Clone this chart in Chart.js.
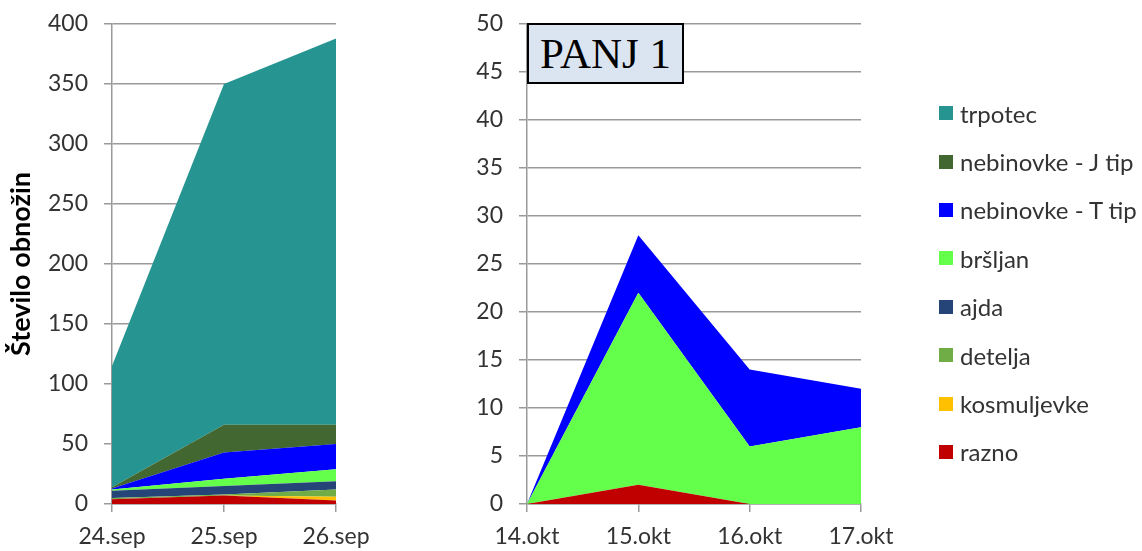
<!DOCTYPE html>
<html>
<head>
<meta charset="utf-8">
<script src="https://cdn.jsdelivr.net/npm/chart.js@4.4.1/dist/chart.umd.min.js"></script>
<style>
  html, body { margin: 0; padding: 0; background: #fff; }
  body { width: 1142px; height: 551px; position: relative; overflow: hidden; font-family: Lato, "Open Sans", sans-serif; }
  #c1 { position: absolute; left: 0; top: 0; }
  #c2 { position: absolute; left: 440px; top: 0; }
  #panj { position: absolute; left: 527px; top: 23px; width: 153px; height: 57px; border: 2px solid #000; background: #dbe5f1;
          font-family: "Liberation Serif", "Times New Roman", serif; font-size: 43px; line-height: 57px; text-align: center; color: #000; }
  #legend { position: absolute; left: 939px; top: 89px; }
  .li { height: 48.4px; display: flex; align-items: center; font-size: 24px; color: #333; white-space: nowrap; }
  .sw { width: 14px; height: 14px; margin-right: 7px; flex: none; }
</style>
</head>
<body>
<canvas id="c1" width="420" height="551"></canvas>
<canvas id="c2" width="500" height="551"></canvas>
<div id="panj">PANJ 1</div>
<div id="legend"></div>
<script>
// ---- data ----
const seriesNames = ['razno', 'kosmuljevke', 'detelja', 'ajda', 'bršljan', 'nebinovke - T tip', 'nebinovke - J tip', 'trpotec'];
const seriesColors = ['#c00000', '#ffc000', '#70ad47', '#254478', '#63ff4a', '#0000ff', '#426730', '#269490'];

const sepDates = ['24.sep', '25.sep', '26.sep'];
const sepRazno = [4, 7, 3];
const sepKosmuljevke = [0, 0, 3];
const sepDetelja = [1, 1, 6];
const sepAjda = [6, 7, 7];
const sepBrsljan = [1, 6, 10];
const sepTtip = [1, 22, 21];
const sepJtip = [1, 23, 16];
const sepTrpotec = [101, 284, 322];

const oktDates = ['14.okt', '15.okt', '16.okt', '17.okt'];
const oktRazno = [0, 2, 0, 0];
const oktKosmuljevke = [0, 0, 0, 0];
const oktDetelja = [0, 0, 0, 0];
const oktAjda = [0, 0, 0, 0];
const oktBrsljan = [0, 20, 6, 8];
const oktTtip = [0, 6, 8, 4];
const oktJtip = [0, 0, 0, 0];
const oktTrpotec = [0, 0, 0, 0];

const sepTicks = [0, 50, 100, 150, 200, 250, 300, 350, 400];
const oktTicks = [0, 5, 10, 15, 20, 25, 30, 35, 40, 45, 50];

const sepSeries = [sepRazno, sepKosmuljevke, sepDetelja, sepAjda, sepBrsljan, sepTtip, sepJtip, sepTrpotec];
const oktSeries = [oktRazno, oktKosmuljevke, oktDetelja, oktAjda, oktBrsljan, oktTtip, oktJtip, oktTrpotec];

// ---- helpers ----
const FONT = 'Lato, "Open Sans", sans-serif';
const GRID = '#9a9a9a';
const TEXT = '#333';

function makeDatasets(series) {
  return series.map((vals, i) => ({
    label: seriesNames[i],
    data: vals,
    backgroundColor: seriesColors[i],
    borderColor: seriesColors[i],
    borderWidth: 0,
    pointRadius: 0,
    pointHoverRadius: 0,
    tension: 0,
    fill: i === 0 ? 'origin' : '-1'
  }));
}

function makeChart(el, labels, series, ticks, yWidth, rightPad, title) {
  const max = ticks[ticks.length - 1];
  const step = ticks[1] - ticks[0];
  return new Chart(document.getElementById(el), {
    type: 'line',
    data: { labels: labels, datasets: makeDatasets(series) },
    options: {
      responsive: false,
      animation: false,
      events: [],
      layout: { padding: { top: 24, right: rightPad, left: 0, bottom: 0 } },
      plugins: { legend: { display: false }, tooltip: { enabled: false } },
      scales: {
        x: {
          offset: false,
          grid: { drawOnChartArea: false, drawTicks: true, tickLength: 8, color: GRID, lineWidth: 1.5 },
          border: { color: GRID, width: 1.5 },
          ticks: { color: TEXT, font: { family: FONT, size: 23 }, padding: 11, maxRotation: 0, autoSkip: false },
          afterFit: s => { s.height = 47; }
        },
        y: {
          stacked: true,
          min: 0, max: max,
          grid: { color: GRID, lineWidth: 1.5, tickLength: 8 },
          border: { color: GRID, width: 1.5 },
          ticks: { stepSize: step, color: TEXT, font: { family: FONT, size: 23 }, padding: 16 },
          title: title ? { display: true, text: title, color: '#000', font: { family: FONT, size: 27, weight: 'bold' }, padding: { top: 5, bottom: 0 } } : { display: false },
          afterFit: s => { s.width = yWidth; s.paddingTop = 0; s.paddingBottom = 0; }
        }
      }
    }
  });
}

makeChart('c1', sepDates, sepSeries, sepTicks, 112, 420 - 336, 'Število obnožin');
makeChart('c2', oktDates, oktSeries, oktTicks, 87, 500 - (861 - 440), null);

// legend (top item = last series)
const lg = document.getElementById('legend');
for (let i = seriesNames.length - 1; i >= 0; i--) {
  const row = document.createElement('div');
  row.className = 'li';
  const sw = document.createElement('span');
  sw.className = 'sw';
  sw.style.background = seriesColors[i];
  row.appendChild(sw);
  row.appendChild(document.createTextNode(seriesNames[i]));
  lg.appendChild(row);
}
</script>
</body>
</html>
